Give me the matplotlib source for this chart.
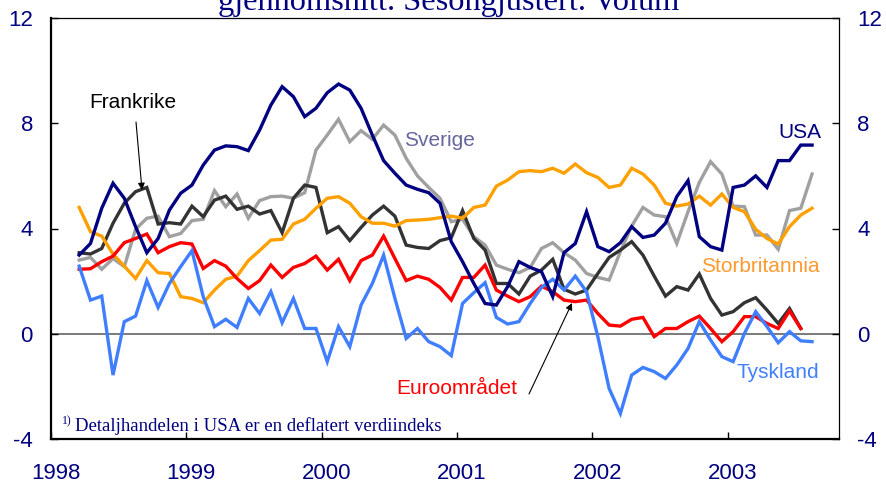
import matplotlib
matplotlib.use("Agg")
import matplotlib.pyplot as plt
from matplotlib.transforms import ScaledTranslation
import numpy as np

# ---- data (monthly, 12-month growth, %) ----
start_month = 2  # March 1998 (0 = Jan 1998)

usa = [2.99, 3.43, 4.77, 5.72, 5.15, 4.07, 3.08, 3.62, 4.70, 5.34, 5.65, 6.41,
       6.98, 7.14, 7.11, 6.96, 7.74, 8.69, 9.39, 9.01, 8.25, 8.57,
       9.16, 9.49, 9.26, 8.57, 7.55, 6.58, 6.10, 5.65, 5.49, 5.36, 4.96, 3.50,
       2.74, 1.91, 1.15, 1.09, 1.79, 2.74, 2.52, 2.36, 1.41, 3.08,
       3.43, 4.64, 3.31, 3.12, 3.46, 4.07, 3.66, 3.75, 4.20, 5.21, 5.82, 3.69,
       3.31, 3.18, 5.56, 5.65, 6.00, 5.56, 6.58, 6.58, 7.17, 7.17]

sverige = [2.80, 2.90, 2.45, 2.86, 2.55, 3.97, 4.39, 4.47, 3.69, 3.81, 4.30, 4.35,
           5.44, 4.83, 5.31, 4.39, 5.06, 5.21, 5.23, 5.15, 5.36, 6.98,
           7.55, 8.15, 7.30, 7.72, 7.39, 7.93, 7.55, 6.67, 6.00, 5.56, 5.15, 4.26,
           4.35, 3.69, 3.37, 2.61, 2.45, 2.32, 2.52, 3.24, 3.46, 3.08,
           2.80, 2.29, 2.14, 2.04, 3.12, 4.09, 4.80, 4.51, 4.45, 3.43, 4.64, 5.75,
           6.54, 6.07, 4.85, 4.83, 3.75, 3.75, 3.21, 4.68, 4.77, 6.07]

frankrike = [3.08, 3.03, 3.24, 4.20, 4.96, 5.40, 5.56, 4.17, 4.22, 4.17, 4.85, 4.45,
             5.08, 5.23, 4.73, 4.85, 4.55, 4.68, 3.84, 5.15, 5.65, 5.56,
             3.84, 4.07, 3.54, 4.04, 4.51, 4.85, 4.47, 3.37, 3.28, 3.24, 3.54, 3.65,
             4.68, 3.62, 3.18, 1.91, 1.91, 1.51, 2.19, 2.42, 2.83, 1.69,
             1.51, 1.66, 2.29, 2.90, 3.18, 3.50, 2.99, 2.19, 1.43, 1.79, 1.66, 2.27,
             1.34, 0.71, 0.84, 1.18, 1.37, 0.90, 0.39, 0.96, 0.20]

storbritannia = [4.80, 3.88, 3.71, 3.03, 2.57, 2.10, 2.78, 2.32, 2.29, 1.41, 1.34, 1.18,
                 1.66, 2.07, 2.19, 2.78, 3.16, 3.56, 3.59, 4.17, 4.35, 4.77,
                 5.15, 5.21, 4.96, 4.45, 4.20, 4.20, 4.09, 4.30, 4.32, 4.35, 4.41, 4.47,
                 4.39, 4.80, 4.89, 5.61, 5.84, 6.16, 6.20, 6.16, 6.29, 6.10,
                 6.45, 6.12, 5.94, 5.56, 5.65, 6.29, 6.07, 5.65, 4.96, 4.85, 4.93, 5.23,
                 4.89, 5.31, 4.80, 4.64, 3.97, 3.62, 3.41, 4.07, 4.51, 4.77]

euro = [2.45, 2.47, 2.74, 2.95, 3.46, 3.62, 3.79, 3.08, 3.31, 3.46, 3.41, 2.48,
        2.78, 2.57, 2.10, 1.72, 2.02, 2.61, 2.14, 2.52, 2.67, 2.95,
        2.42, 2.83, 2.02, 2.78, 2.99, 3.71, 2.86, 2.02, 2.19, 2.07, 1.76, 1.28,
        2.14, 2.14, 2.61, 1.66, 1.43, 1.22, 1.41, 1.81, 1.60, 1.28,
        1.22, 1.28, 0.77, 0.33, 0.29, 0.55, 0.62, -0.11, 0.20, 0.20, 0.46, 0.67,
        0.20, -0.30, 0.08, 0.65, 0.65, 0.39, 0.20, 0.87, 0.20]

tyskland = [2.57, 1.28, 1.43, -1.57, 0.46, 0.67, 2.02, 1.00, 1.91, 2.55, 3.16, 1.41,
            0.27, 0.55, 0.24, 1.34, 0.77, 1.60, 0.42, 1.34, 0.20, 0.20,
            -1.06, 0.27, -0.49, 1.09, 1.91, 2.99, 1.35, -0.18, 0.20, -0.30, -0.49, -0.83,
            1.15, 1.56, 1.94, 0.62, 0.37, 0.46, 1.15, 1.76, 2.07, 1.66,
            2.19, 1.60, -0.11, -2.08, -3.03, -1.57, -1.28, -1.44, -1.70, -1.19, -0.56, 0.46,
            -0.24, -0.87, -1.06, 0.01, 0.84, 0.27, -0.34, 0.08, -0.27, -0.30]

year_ticks = [1998, 1999, 2000, 2001, 2002, 2003]
y_ticks = [-4, 0, 4, 8, 12]


def months_to_x(n):
    m = np.arange(start_month, start_month + n)
    return 1998 + (m + 0.5) / 12.0


NAVY = "#000080"
W, H = 887, 483
fig = plt.figure(figsize=(W / 100, H / 100), dpi=100)
L, R, T, B = 51, 839, 18, 439
ax = fig.add_axes([L / W, 1 - B / H, (R - L) / W, (B - T) / H])

lw = 2.4
series = [
    (sverige, "#a0a0a0"),
    (frankrike, "#333333"),
    (storbritannia, "#ffa000"),
    (euro, "#ff0000"),
    (tyskland, "#3f7fff"),
    (usa, "#000080"),
]
ax.axhline(0, color="#707070", lw=1.3, zorder=1)
for vals, col in series:
    ax.plot(months_to_x(len(vals)), vals, color=col, lw=lw,
            solid_joinstyle="miter", zorder=3)

ax.set_xlim(1998, 1998 + (R - L) / 135.3)
ax.set_ylim(-4, 12)
ax.set_yticks(y_ticks)
ax.set_yticklabels([str(v) for v in y_ticks])
ax.set_xticks(year_ticks)
ax.set_xticklabels([str(v) for v in year_ticks])

ax.tick_params(axis="y", direction="in", length=5, width=1, left=True, right=True,
               labelleft=True, labelright=True, labelsize=16, labelcolor=NAVY, pad=13)
ax.tick_params(axis="x", direction="in", length=5, width=1, labelsize=16,
               labelcolor=NAVY, pad=17)
for lab in ax.get_xticklabels():
    lab.set_transform(lab.get_transform() + ScaledTranslation(5 / 100, 0, fig.dpi_scale_trans))
for lab in ax.get_xticklabels() + ax.get_yticklabels():
    lab.set_family("Liberation Sans")
for t in ax.yaxis.get_major_ticks():
    t.label2.set_family("Liberation Sans")
    t.label2.set_color(NAVY)
    t.label2.set_fontsize(16)

ax.spines["left"].set_linewidth(1.6)
ax.spines["bottom"].set_linewidth(1.6)
ax.spines["top"].set_linewidth(0.9)
ax.spines["right"].set_linewidth(0.9)
for s in ax.spines.values():
    s.set_color("black")


def fp(x, y):
    return (x / W, 1 - y / H)


sans = "Liberation Sans"
serif = "Liberation Serif"

# title (cut off at the top edge, as in the source)
fig.text(*fp(449, 10), "gjennomsnitt. Sesongjustert. Volum", ha="center", va="baseline",
         fontsize=23.3, family=serif, color=NAVY)

# series labels
fig.text(*fp(89, 102), "Frankrike", ha="left", va="center", fontsize=15, family=sans, color="black")
fig.text(*fp(404, 140), "Sverige", ha="left", va="center", fontsize=15, family=sans, color="#66669c")
fig.text(*fp(778, 132), "USA", ha="left", va="center", fontsize=15, family=sans, color=NAVY)
fig.text(*fp(701, 267), "Storbritannia", ha="left", va="center", fontsize=15, family=sans, color="#ff9a30")
fig.text(*fp(737, 373), "Tyskland", ha="left", va="center", fontsize=15, family=sans, color="#4080ff")
fig.text(*fp(396, 388), "Euroområdet", ha="left", va="center", fontsize=15, family=sans, color="#ff0000")

# arrows
arrow = dict(arrowstyle="-|>", color="black", lw=0.8, mutation_scale=10, shrinkA=0, shrinkB=0)
ax.annotate("", xy=(142, H - 190), xytext=(136, H - 122), xycoords="figure pixels",
            textcoords="figure pixels", arrowprops=arrow, zorder=5)
ax.annotate("", xy=(572, H - 303), xytext=(529, H - 394), xycoords="figure pixels",
            textcoords="figure pixels", arrowprops=arrow, zorder=5)

# footnote
fig.text(*fp(62, 424), "1)", ha="left", va="baseline", fontsize=8.5, family=serif, color=NAVY)
fig.text(*fp(75, 431), "Detaljhandelen i USA er en deflatert verdiindeks", ha="left",
         va="baseline", fontsize=13.5, family=serif, color=NAVY)

fig.savefig("out.png", dpi=100)
